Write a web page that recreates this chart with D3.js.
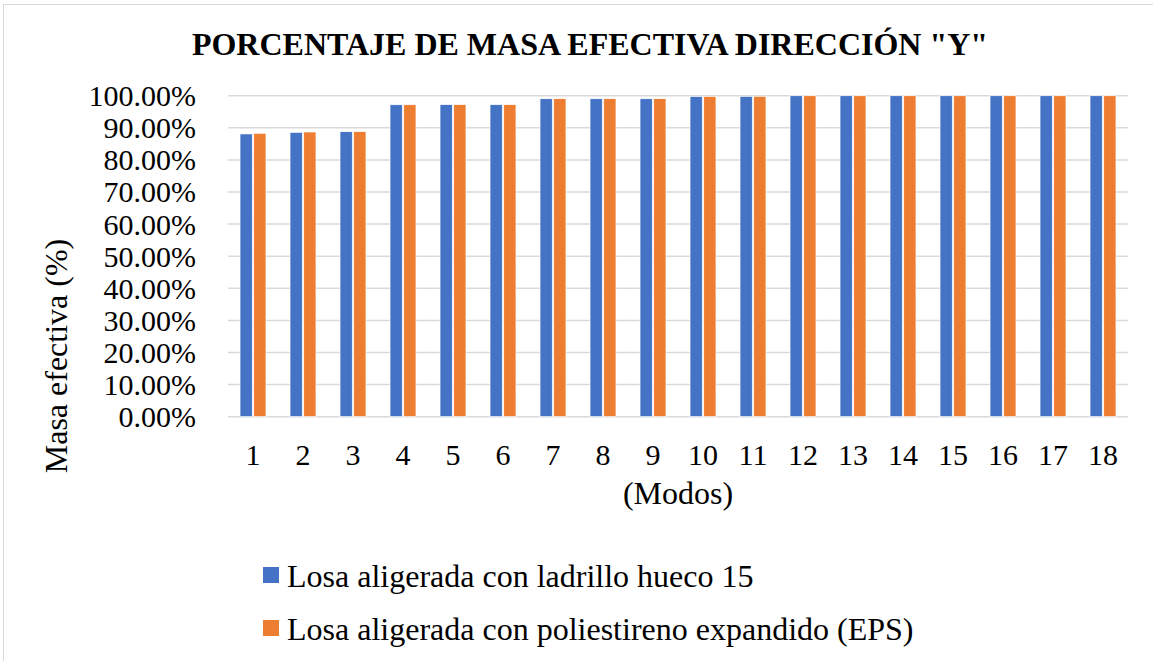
<!DOCTYPE html>
<html>
<head>
<meta charset="utf-8">
<script src="https://cdn.jsdelivr.net/npm/d3@7/dist/d3.min.js"></script>
<style>
  html, body { margin: 0; padding: 0; background: #fff; }
  svg { display: block; font-family: "Liberation Serif", "Times New Roman", serif; }
</style>
</head>
<body>
<svg id="chart" width="1153" height="661"></svg>
<script>
// Modes of vibration and effective mass participation (%) in the Y direction
const modes = ["1","2","3","4","5","6","7","8","9","10","11","12","13","14","15","16","17","18"];
const ladrillo = [88.10, 88.60, 88.80, 97.20, 97.25, 97.25, 99.07, 99.07, 99.07, 99.80, 99.82, 100, 100, 100, 100, 100, 100, 100];
const eps      = [88.30, 88.70, 88.85, 97.20, 97.25, 97.25, 99.08, 99.08, 99.08, 99.81, 99.83, 100, 100, 100, 100, 100, 100, 100];
const seriesNames = ["Losa aligerada con ladrillo hueco 15", "Losa aligerada con poliestireno expandido (EPS)"];
const yTicks = [0, 10, 20, 30, 40, 50, 60, 70, 80, 90, 100];

const colors = ["#4472C4", "#ED7D31"];
const svg = d3.select("#chart");
const W = 1153, H = 661;
const plot = { left: 228, right: 1128, top: 95.7, bottom: 416.7 };
const serif = "Liberation Serif, Times New Roman, serif";

// chart frame
svg.append("rect")
  .attr("x", 3.5).attr("y", 4.5)
  .attr("width", W + 10).attr("height", H + 10)
  .attr("fill", "#fff").attr("stroke", "#d9d9d9").attr("stroke-width", 1);

const x0 = d3.scaleBand().domain(modes).range([plot.left, plot.right])
  .paddingInner(0.48).paddingOuter(0.24);
const x1 = d3.scaleBand().domain([0, 1]).range([0, x0.bandwidth()]).paddingInner(0.1);
const y = d3.scaleLinear().domain([0, 100]).range([plot.bottom, plot.top]);

// horizontal gridlines
svg.append("g")
  .selectAll("line").data(yTicks).join("line")
  .attr("x1", plot.left).attr("x2", plot.right)
  .attr("y1", d => y(d)).attr("y2", d => y(d))
  .attr("stroke", "#d9d9d9").attr("stroke-width", 1.5);

// y axis labels
const yAxis = d3.axisLeft(y).tickValues(yTicks)
  .tickFormat(d => d.toFixed(2) + "%").tickSize(0).tickPadding(32);
svg.append("g").attr("transform", `translate(${plot.left},0)`).call(yAxis)
  .call(g => g.select(".domain").remove())
  .selectAll("text")
  .attr("font-family", serif)
  .attr("font-size", 30).attr("fill", "#000").attr("dy", "0.33em");

// bars
const rows = modes.map((m, i) => ({ mode: m, vals: [ladrillo[i], eps[i]] }));
const groups = svg.append("g").selectAll("g").data(rows).join("g")
  .attr("transform", d => `translate(${x0(d.mode)},0)`);
groups.selectAll("rect").data(d => d.vals.map((v, k) => ({ v, k }))).join("rect")
  .attr("x", d => x1(d.k))
  .attr("width", x1.bandwidth())
  .attr("y", d => y(d.v))
  .attr("height", d => y(0) - y(d.v))
  .attr("fill", d => colors[d.k])
  .attr("stroke", "#fff").attr("stroke-width", 0.75);

// x axis labels
const xAxis = d3.axisBottom(x0).tickSize(0).tickPadding(27);
svg.append("g").attr("transform", `translate(0,${plot.bottom})`).call(xAxis)
  .call(g => g.select(".domain").remove())
  .selectAll("text")
  .attr("font-family", serif)
  .attr("font-size", 30).attr("fill", "#000");

// title
svg.append("text")
  .attr("x", 590).attr("y", 55)
  .attr("text-anchor", "middle")
  .attr("font-size", 32).attr("font-weight", "bold")
  .text('PORCENTAJE DE MASA EFECTIVA DIRECCIÓN "Y"');

// axis titles
svg.append("text")
  .attr("x", (plot.left + plot.right) / 2).attr("y", 504)
  .attr("text-anchor", "middle").attr("font-size", 32)
  .text("(Modos)");
svg.append("text")
  .attr("transform", "translate(67,356) rotate(-90)")
  .attr("text-anchor", "middle").attr("font-size", 32)
  .text("Masa efectiva (%)");

// legend
const legend = svg.append("g").selectAll("g").data(seriesNames).join("g")
  .attr("transform", (d, i) => `translate(263,${567 + i * 53})`);
legend.append("rect").attr("width", 16).attr("height", 16)
  .attr("fill", (d, i) => colors[i]);
legend.append("text").attr("x", 24).attr("y", 20)
  .attr("font-size", 32).text(d => d);
</script>
</body>
</html>
